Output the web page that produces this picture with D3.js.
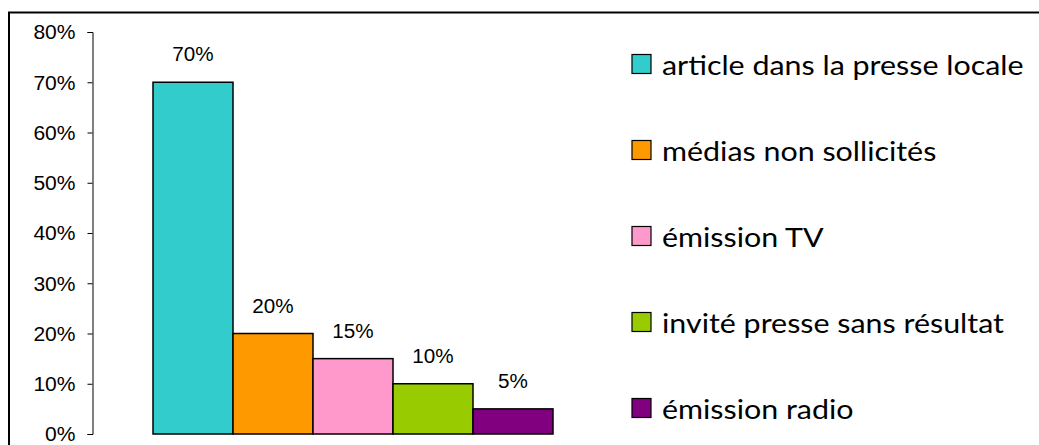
<!DOCTYPE html>
<html>
<head>
<meta charset="utf-8">
<script src="https://cdn.jsdelivr.net/npm/d3@7"></script>
<style>
  html, body { margin: 0; padding: 0; background: #fff; }
  svg { display: block; }
</style>
</head>
<body>
<svg id="chart" width="1039" height="445"></svg>
<script>
const categories = ["article dans la presse locale", "médias non sollicités", "émission TV", "invité presse sans résultat", "émission radio"];
const values = [0.70, 0.20, 0.15, 0.10, 0.05];
const colors = ["#33CCCC", "#FF9900", "#FF99CC", "#99CC00", "#800080"];
const yTicks = [0, 0.1, 0.2, 0.3, 0.4, 0.5, 0.6, 0.7, 0.8];

const svg = d3.select("#chart");

// outer frame (extends beyond right & bottom edges)
svg.append("rect")
  .attr("x", 9).attr("y", 12.5)
  .attr("width", 1100).attr("height", 500)
  .attr("fill", "#fff").attr("stroke", "#000").attr("stroke-width", 2);

const y = d3.scaleLinear().domain([0, 0.8]).range([434, 32]);
const x = d3.scaleBand().domain(categories).range([153, 553]).padding(0);
const fmt = d3.format(".0%");

// y axis
const axis = d3.axisLeft(y).tickValues(yTicks).tickFormat(fmt).tickSizeInner(5).tickSizeOuter(5).tickPadding(12);
const gA = svg.append("g").attr("transform", "translate(92.5,0)").call(axis);
gA.select(".domain").attr("stroke", "#000").attr("stroke-width", 1);
gA.selectAll(".tick line").attr("stroke", "#000");
gA.selectAll(".tick text")
  .attr("fill", "#000")
  .style("font-family", "Liberation Sans, Arial, sans-serif")
  .style("font-size", "19.5px")
  .attr("text-anchor", "end")
  .attr("transform", function() {
    const xx = +d3.select(this).attr("x");
    return `translate(${xx},0) scale(1.08,1) translate(${-xx},0)`;
  })
  .attr("dy", "0.35em");

// bars
svg.append("g").selectAll("rect").data(categories).join("rect")
  .attr("x", d => x(d))
  .attr("y", (d, i) => y(values[i]))
  .attr("width", x.bandwidth())
  .attr("height", (d, i) => y(0) - y(values[i]))
  .attr("fill", (d, i) => colors[i])
  .attr("stroke", "#000").attr("stroke-width", 1.5);

// value labels
svg.append("g").selectAll("text").data(categories).join("text")
  .attr("transform", (d, i) => `translate(${x(d) + x.bandwidth() / 2},${y(values[i]) - 21}) scale(1.06,1)`)
  .attr("text-anchor", "middle")
  .style("font-family", "Liberation Sans, Arial, sans-serif")
  .style("font-size", "19.5px")
  .attr("fill", "#000")
  .text((d, i) => fmt(values[i]));

// legend
const leg = svg.append("g").selectAll("g").data(categories).join("g")
  .attr("transform", (d, i) => `translate(632,${64 + i * 86})`);
leg.append("rect")
  .attr("x", 0).attr("y", -9.5).attr("width", 19).attr("height", 19)
  .attr("fill", (d, i) => colors[i]).attr("stroke", "#000").attr("stroke-width", 1.2);
leg.append("text")
  .attr("transform", "translate(30,11) scale(1.17,1)")
  .style("font-family", "Lato, 'Open Sans', sans-serif")
  .style("font-size", "26px")
  .attr("fill", "#000")
  .text(d => d);
</script>
</body>
</html>
